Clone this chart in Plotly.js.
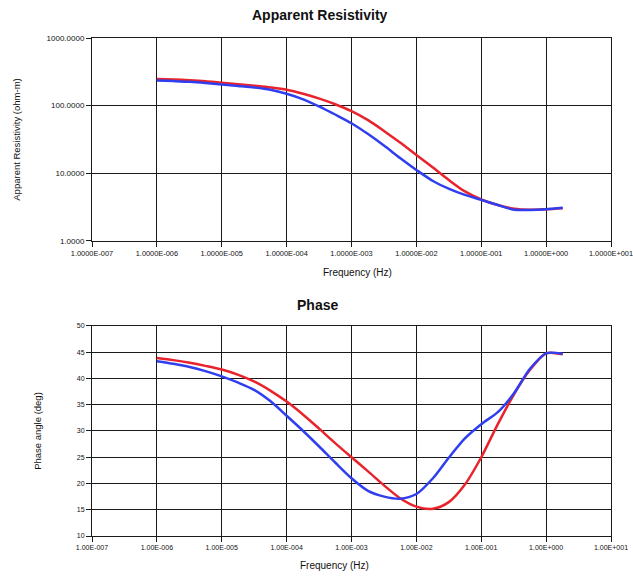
<!DOCTYPE html>
<html>
<head>
<meta charset="utf-8">
<script src="https://cdn.plot.ly/plotly-3.0.1.min.js"></script>
<style>
  html, body { margin: 0; padding: 0; background: #fff; }
  #chart { width: 633px; height: 577px; }
</style>
</head>
<body>
<div id="chart"></div>
<script>
// Sounding frequencies (Hz), quarter-decade steps
const frequency = [
  1e-6, 1.8e-6, 3.2e-6, 5.6e-6,
  1e-5, 1.8e-5, 3.2e-5, 5.6e-5,
  1e-4, 1.8e-4, 3.2e-4, 5.6e-4,
  1e-3, 1.8e-3, 3.2e-3, 5.6e-3,
  1e-2, 1.8e-2, 3.2e-2, 5.6e-2,
  1e-1, 1.8e-1, 3.2e-1, 5.6e-1,
  1e0, 1.8e0
];

// Apparent resistivity (ohm-m)
const rhoRed = [
  248, 244, 238, 230,
  218, 208, 197, 186,
  172, 150, 127, 105,
  83, 61, 42, 28.5,
  18.7, 12.2, 7.9, 5.4,
  4.1, 3.4, 3.0, 2.9,
  2.95, 3.05
];
const rhoBlue = [
  236, 231, 225, 216,
  205, 195, 185, 172,
  150, 124, 97, 74,
  55, 38, 25.5, 16.8,
  11.2, 7.7, 5.9, 4.8,
  4.05, 3.4, 2.9, 2.88,
  2.95, 3.1
];

// Phase angle (deg)
const phaseRed = [
  43.9, 43.5, 43.0, 42.4,
  41.7, 40.7, 39.4, 37.7,
  35.6, 33.1, 30.4, 27.7,
  25.0, 22.3, 19.6, 17.2,
  15.6, 15.2, 16.5, 19.8,
  25.0, 31.3, 37.0, 41.6,
  44.8, 44.6
];
const phaseBlue = [
  43.3, 42.8, 42.2, 41.4,
  40.4, 39.2, 37.8, 35.7,
  32.9, 30.0, 27.0, 24.0,
  21.0, 18.6, 17.5, 17.1,
  18.0, 21.0, 25.0, 28.6,
  31.3, 33.6, 37.2, 41.8,
  44.8, 44.7
];

// Axis ticks
const freqTicks = [1e-7, 1e-6, 1e-5, 1e-4, 1e-3, 1e-2, 1e-1, 1e0, 1e1];
const freqLabelsRho = ["1.0000E-007", "1.0000E-006", "1.0000E-005", "1.0000E-004",
  "1.0000E-003", "1.0000E-002", "1.0000E-001", "1.0000E+000", "1.0000E+001"];
const freqLabelsPhase = ["1.00E-007", "1.00E-006", "1.00E-005", "1.00E-004",
  "1.00E-003", "1.00E-002", "1.00E-001", "1.00E+000", "1.00E+001"];
const rhoTicks = [1, 10, 100, 1000];
const rhoLabels = ["1.0000", "10.0000", "100.0000", "1000.0000"];
const phaseTicks = [10, 15, 20, 25, 30, 35, 40, 45, 50];

const RED = "#e8232b";
const BLUE = "#2f3ff0";
const FONT = "Liberation Sans, Arial, sans-serif";
const INK = "#111";

function curve(x, y, xa, ya, color, name) {
  return { x: x, y: y, xaxis: xa, yaxis: ya, type: "scatter", mode: "lines",
    line: { color: color, width: 2.5, shape: "spline", smoothing: 0.8 }, name: name };
}

const traces = [
  curve(frequency, rhoRed, "x", "y", RED, "rho 1"),
  curve(frequency, rhoBlue, "x", "y", BLUE, "rho 2"),
  curve(frequency, phaseRed, "x2", "y2", RED, "phase 1"),
  curve(frequency, phaseBlue, "x2", "y2", BLUE, "phase 2")
];

const gridAxis = {
  showgrid: true, gridcolor: "#1a1a1a", gridwidth: 1,
  showline: true, linecolor: "#1a1a1a", linewidth: 1, mirror: true,
  ticks: "outside", ticklen: 5, tickcolor: "#1a1a1a",
  zeroline: false, fixedrange: true
};

const layout = {
  width: 633, height: 577,
  margin: { l: 92, r: 22, t: 38, b: 41 },
  paper_bgcolor: "#ffffff", plot_bgcolor: "#ffffff",
  showlegend: false,
  font: { family: FONT, color: INK },
  xaxis: Object.assign({}, gridAxis, {
    type: "log", range: [-7, 1], domain: [0, 1], anchor: "y",
    tickvals: freqTicks, ticktext: freqLabelsRho, ticklabeloverflow: "allow",
    tickfont: { size: 7.4, family: FONT, color: INK }
  }),
  yaxis: Object.assign({}, gridAxis, {
    type: "log", range: [0, 3], domain: [0.5924, 1], anchor: "x",
    tickvals: rhoTicks, ticktext: rhoLabels,
    tickfont: { size: 8, family: FONT, color: INK },
    title: { text: "Apparent Resistivity (ohm-m)", font: { size: 9.5, family: FONT, color: INK }, standoff: 24 }
  }),
  xaxis2: Object.assign({}, gridAxis, {
    type: "log", range: [-7, 1], domain: [0, 1], anchor: "y2",
    tickvals: freqTicks, ticktext: freqLabelsPhase, ticklabeloverflow: "allow",
    tickfont: { size: 7, family: FONT, color: INK }
  }),
  yaxis2: Object.assign({}, gridAxis, {
    range: [10, 50], domain: [0, 0.4217], anchor: "x2",
    tickvals: phaseTicks,
    tickfont: { size: 7, family: FONT, color: INK },
    title: { text: "Phase angle (deg)", font: { size: 9.5, family: FONT, color: INK }, standoff: 33 }
  }),
  annotations: [
    { text: "<b>Apparent Resistivity</b>", xref: "paper", yref: "paper",
      x: 0.44, y: 1, yshift: 23, xanchor: "center", yanchor: "middle", showarrow: false,
      font: { size: 14, family: FONT, color: INK } },
    { text: "<b>Phase</b>", xref: "paper", yref: "paper",
      x: 0.435, y: 0.4217, yshift: 21, xanchor: "center", yanchor: "middle", showarrow: false,
      font: { size: 14, family: FONT, color: INK } },
    { text: "Frequency (Hz)", xref: "paper", yref: "paper",
      x: 0.5125, y: 0.530, xanchor: "center", yanchor: "middle", showarrow: false,
      font: { size: 10, family: FONT, color: INK } },
    { text: "Frequency (Hz)", xref: "paper", yref: "paper",
      x: 0.468, y: -0.060, xanchor: "center", yanchor: "middle", showarrow: false,
      font: { size: 10, family: FONT, color: INK } }
  ]
};

Plotly.newPlot("chart", traces, layout, { displayModeBar: false, staticPlot: true });
</script>
</body>
</html>
